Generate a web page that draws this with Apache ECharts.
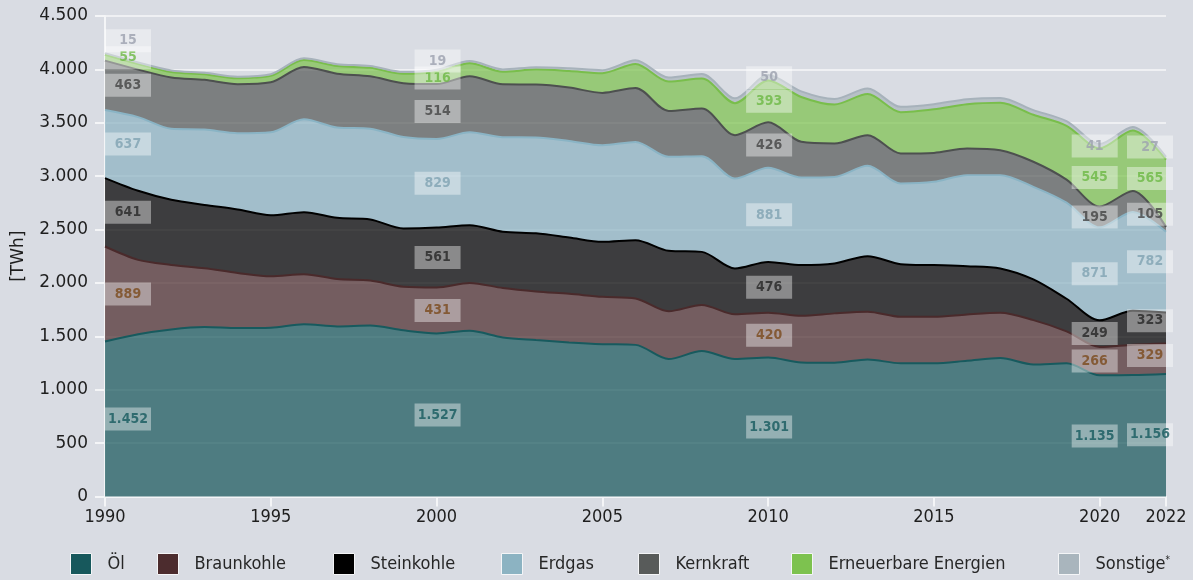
<!DOCTYPE html>
<html><head><meta charset="utf-8">
<script src="https://cdn.jsdelivr.net/npm/echarts@6/dist/echarts.min.js"></script>
<style>html,body{margin:0;padding:0;background:#d9dce3;}#c{width:1193px;height:580px;}</style>
</head><body><div id="c"></div>
<script>
// ---- data (TWh) ----
const years = ['1990','1991','1992','1993','1994','1995','1996','1997','1998','1999',
  '2000','2001','2002','2003','2004','2005','2006','2007','2008','2009',
  '2010','2011','2012','2013','2014','2015','2016','2017','2018','2019',
  '2020','2021','2022'];
const oel = [1452,1520,1565,1587,1577,1580,1613,1593,1602,1556, 1527,1552,1490,1465,1443,1427,1420,1287,1362,1287, 1301,1256,1253,1284,1247,1247,1271,1296,1237,1247, 1135,1137,1147];
const braunkohle = [889,696,604,550,517,482,469,443,421,409, 431,448,462,455,455,443,435,448,432,419, 420,436,462,446,436,436,434,424,415,300, 266,285,287];
const steinkohle = [641,647,610,594,594,572,581,574,572,546, 561,541,528,545,528,515,546,566,497,430, 476,475,468,521,493,484,452,416,381,305, 249,317,290];
const erdgas = [637,690,665,706,715,778,870,845,850,855, 829,870,885,897,904,905,920,880,896,842, 881,820,810,846,755,780,852,873,867,900, 871,925,755];
const kernkraft = [463,445,481,465,458,467,490,505,490,505, 514,525,495,496,500,490,505,430,447,406, 426,335,313,287,281,271,250,234,235,215, 195,198,46];
const erneuerbare = [55,52,50,52,55,60,65,72,80,88, 116,122,118,140,155,185,225,275,280,300, 393,420,365,385,387,408,415,445,440,505, 545,565,630];
const sonstige = [15,15,15,15,16,16,16,17,17,18, 19,20,22,23,26,28,34,38,42,45, 50,52,52,52,50,48,47,45,44,43, 41,34,26];

// value labels shown in the chart
const labelYears = [1990, 2000, 2010, 2020, 2022];
const labelOel = [1452, 1527, 1301, 1135, 1156];
const labelBraunkohle = [889, 431, 420, 266, 329];
const labelSteinkohle = [641, 561, 476, 249, 323];
const labelErdgas = [637, 829, 881, 871, 782];
const labelKernkraft = [463, 514, 426, 195, 105];
const labelErneuerbare = [55, 116, 393, 545, 565];
const labelSonstige = [15, 19, 50, 41, 27];

const yTicks = [0, 500, 1000, 1500, 2000, 2500, 3000, 3500, 4000, 4500];
const names = ['Öl','Braunkohle','Steinkohle','Erdgas','Kernkraft','Erneuerbare Energien','Sonstige*'];

// ---- styles ----
const fills = ['#17585c','#4c2c2e','#000000','#8cb3c2','#585b5a','#7dc24f','#a9b5bd'];
const lines = ['#175a5e','#4a2a2b','#000000','#8ab4c5','#4d504f','#79be4b','#a7b2bb'];
const labelColors = ['#155a5e','#7a4a1c','#262626','#7fa2b2','#444444','#6cb843','#9ba0ae'];
const colDx = [23, 1, 1, -5, -16];
const legendLeft = [70, 157, 333, 501, 638, 791, 1058];

const series = [oel, braunkohle, steinkohle, erdgas, kernkraft, erneuerbare, sonstige];
const labelSets = [labelOel, labelBraunkohle, labelSteinkohle, labelErdgas, labelKernkraft, labelErneuerbare, labelSonstige];

const fmt = v => String(v).replace(/\B(?=(\d{3})+(?!\d))/g, '.');
const condensed = "'DejaVu Sans Condensed', 'DejaVu Sans', sans-serif";

const chartSeries = series.map((d, i) => ({
  name: names[i], type: 'line', stack: 'total', data: d,
  smooth: 0.3, symbol: 'none',
  lineStyle: { color: lines[i], width: 2 },
  itemStyle: { color: fills[i] },
  areaStyle: { color: fills[i], opacity: 0.72 },
  emphasis: { disabled: true }, z: 2
}));

// label positions: middle of each band (from label values)
const minGap = 159; // TWh ~ 17px
labelSets.forEach((set, i) => {
  const data = labelYears.map((yr, c) => {
    let below = 0;
    for (let k = 0; k < i; k++) below += labelSets[k][c];
    let y = below + set[c] / 2;
    if (i === 6) {
      let belowEE = 0;
      for (let k = 0; k < 5; k++) belowEE += labelSets[k][c];
      const eeMid = belowEE + labelSets[5][c] / 2;
      y = Math.max(y, eeMid + minGap);
    }
    return { value: [yr, y, set[c]], label: { offset: [colDx[c], 0] } };
  });
  chartSeries.push({
    name: 'lbl' + i, type: 'scatter', xAxisIndex: 1, yAxisIndex: 0,
    symbolSize: 0, silent: true, z: 10, data,
    label: {
      show: true, position: 'inside', formatter: p => fmt(p.value[2]),
      color: labelColors[i], fontFamily: condensed, fontSize: 14, fontWeight: 'bold',
      backgroundColor: 'rgba(255,255,255,0.5)', width: 46, height: 23,
      lineHeight: 23, align: 'center', verticalAlign: 'middle', padding: 0
    }
  });
});

const showTick = (idx, val) => ((+val - 1990) % 5 === 0) || val === '2022';

const legends = names.map((n, i) => ({
  left: legendLeft[i], top: 553, padding: 0, itemWidth: 21, itemHeight: 21,
  icon: 'rect', selectedMode: false,
  data: [{ name: n, icon: 'rect', itemStyle: { color: fills[i], borderColor: '#f4f5f7', borderWidth: 1 } }],
  formatter: i === 6 ? 'Sonstige{sup|*}' : '{name}',
  textStyle: { fontFamily: condensed, fontSize: 18, color: '#262626', padding: [0, 0, 0, 11],
    rich: { sup: { fontFamily: condensed, fontSize: 10, color: '#262626', padding: [0, 0, 8, 0] } } }
}));

const chart = echarts.init(document.getElementById('c'), null, { renderer: 'canvas' });
chart.setOption({
  backgroundColor: '#d9dce3',
  animation: false,
  grid: { left: 105, right: 27, top: 16, bottom: 83.5, containLabel: false, outerBoundsMode: 'none' },
  legend: legends,
  xAxis: [{
    type: 'category', data: years, boundaryGap: false,
    axisLine: { lineStyle: { color: '#f4f5f7', width: 2 } },
    axisTick: { show: true, length: 10, interval: showTick, lineStyle: { color: '#f4f5f7', width: 2 } },
    axisLabel: { interval: showTick, color: '#1e1e1e', fontFamily: condensed, fontSize: 18, margin: 12 },
    splitLine: { show: false }
  }, {
    type: 'value', min: 1990, max: 2022, show: false
  }],
  yAxis: {
    type: 'value', min: yTicks[0], max: yTicks[yTicks.length - 1], interval: 500,
    name: '[TWh]', nameLocation: 'middle', nameGap: 78, nameRotate: 90,
    nameTextStyle: { fontFamily: "'DejaVu Sans', sans-serif", fontSize: 17, color: '#1e1e1e' },
    axisLine: { show: true, lineStyle: { color: '#f4f5f7', width: 2 } },
    axisTick: { show: true, length: 10, lineStyle: { color: '#f4f5f7', width: 2 } },
    axisLabel: { formatter: v => fmt(v), color: '#1e1e1e', fontFamily: "'DejaVu Sans', sans-serif", fontSize: 17, margin: 17 },
    splitLine: { show: true, lineStyle: { color: '#eff0f3', width: 2 } }
  },
  series: chartSeries
});
</script></body></html>
